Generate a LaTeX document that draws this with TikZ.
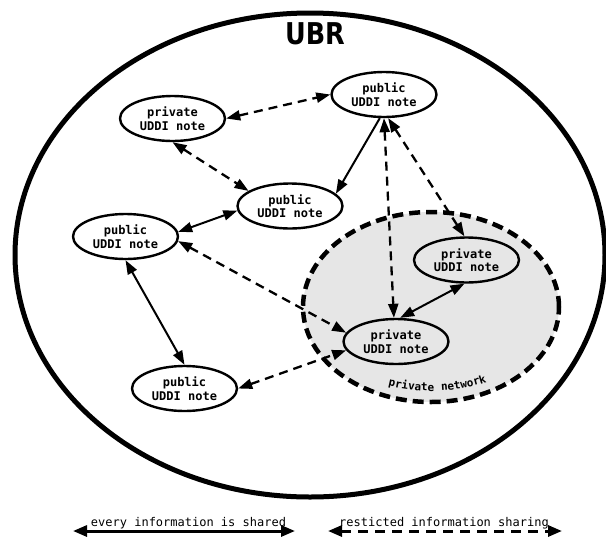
\documentclass[tikz,border=0pt]{standalone}
\usepackage{fontspec}
\usepackage{graphicx}
\setmainfont{DejaVu Sans}
\setmonofont{DejaVu Sans Mono}
\usetikzlibrary{shapes.geometric,arrows.meta,decorations.text}
\definecolor{privfill}{HTML}{E6E6E6}
\begin{document}
\begin{tikzpicture}[x=1pt,y=-1pt,
  uddi/.style={ellipse,draw,line width=2.4pt,minimum width=105pt,minimum height=45pt,
    inner sep=0pt,align=center,font=\ttfamily\bfseries\fontsize{12}{13.5}\selectfont},
  onetip/.style={-{Triangle[length=14pt,width=10pt]}},
  twotips/.style={{Triangle[length=14pt,width=10pt]}-{Triangle[length=14pt,width=10pt]}},
  shared/.style={line width=2pt},
  restricted/.style={line width=2.3pt,dash pattern=on 9pt off 6pt},
  legendtext/.style={font=\ttfamily\fontsize{12}{14}\selectfont,inner sep=0pt},
  legendtips/.style={{Triangle[length=14pt,width=11pt]}-{Triangle[length=14pt,width=11pt]}},
]
\useasboundingbox (0,0) rectangle (606,539);

% UBR boundary
\draw[line width=5pt] (310,255) ellipse [x radius=295pt, y radius=242pt];
\node (ubr) at (315,34) {\fontsize{30}{32}\selectfont\bfseries\scalebox{0.85}[1]{UBR}};

% private network area
\draw[fill=privfill, line width=4.5pt, dash pattern=on 11pt off 6pt]
  (431,307) ellipse [x radius=128pt, y radius=95pt];
\path[decorate, decoration={text along path, text align=center,
    text={|\ttfamily\bfseries\fontsize{11}{13}\selectfont\addfontfeature{LetterSpace=4}|private network}}]
  (327.4,354) arc[start angle=214, end angle=334, x radius=125pt, y radius=84pt];

% registry nodes
\node[uddi] (A) at (172.5,118.5) {private\\UDDI note};
\node[uddi] (B) at (384,94.5) {public\\UDDI note};
\node[uddi] (C) at (290,206) {public\\UDDI note};
\node[uddi] (D) at (125.5,236.5) {public\\UDDI note};
\node[uddi] (E) at (466.5,260) {private\\UDDI note};
\node[uddi] (F) at (396,341.5) {private\\UDDI note};
\node[uddi] (G) at (184.5,388.5) {public\\UDDI note};

% full sharing links
\draw[shared,onetip] (B.-100) -- (C.15);
\draw[shared,twotips] (D.5) -- (C.185);
\draw[shared,twotips] (D.south) -- (G.north);
\draw[shared,twotips] (E.265) -- (F.80);

% restricted sharing links
\draw[restricted,twotips] (A.east) -- (B.west);
\draw[restricted,twotips] (A.south) -- (C.160);
\draw[restricted,twotips] (D.-5) -- (F.170);
\draw[restricted,twotips] (G.east) -- (F.190);
\draw[restricted,twotips] (B.south) -- (F.95);
\draw[restricted,twotips] (B.-80) -- (E.95);

% legend
\coordinate (s1) at (73,531);
\coordinate (s2) at (295,531);
\draw[line width=3pt,legendtips] (s1) -- (s2);
\node[legendtext,anchor=base] (st) at (188.5,526) {every information is shared};
\coordinate (r1) at (328,531);
\coordinate (r2) at (562,531);
\draw[line width=3pt,dash pattern=on 10pt off 7pt,legendtips] (r1) -- (r2);
\node[legendtext,anchor=base] (rt) at (444,526) {resticted information sharing};
\end{tikzpicture}
\end{document}
